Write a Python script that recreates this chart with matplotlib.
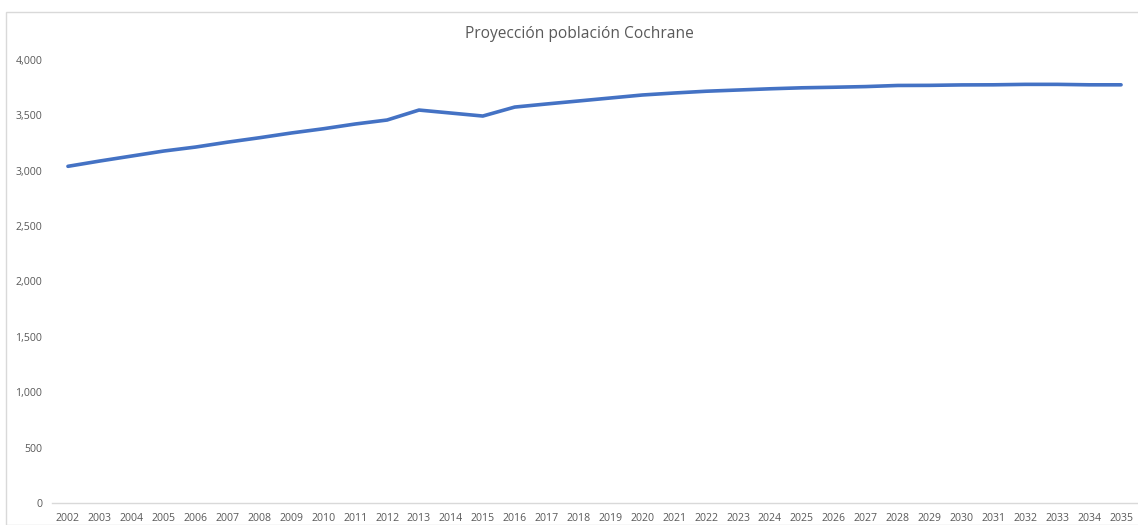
import matplotlib
matplotlib.use("Agg")
import matplotlib.pyplot as plt
from matplotlib.patches import Rectangle
from matplotlib.ticker import FuncFormatter

years = [str(y) for y in range(2002, 2036)]
population = [3040, 3088, 3133, 3178, 3214, 3258, 3298, 3341, 3379, 3422, 3458,
              3548, 3521, 3494, 3575, 3603, 3630, 3657, 3684, 3702, 3718, 3729,
              3740, 3749, 3754, 3760, 3770, 3771, 3775, 3776, 3780, 3780, 3776, 3776]
title = "Proyección población Cochrane"

plt.rcParams['font.family'] = ['Open Sans', 'DejaVu Sans']
W, H = 1138, 525
fig = plt.figure(figsize=(W/100, H/100), dpi=100)
fig.patches.append(Rectangle((6/W, 0), 1.5, 1 - 12/H, transform=fig.transFigure,
                             fill=False, edgecolor='#d9d9d9', linewidth=1))
ax = fig.add_axes([52/W, (H-503)/H, (1137-52)/W, (503-60)/H])
x = list(range(len(years)))
ax.plot(x, population, color='#4472C4', linewidth=2.6, solid_capstyle='round')
ax.set_xlim(-0.5, len(years) - 0.5)
ax.set_ylim(0, 4000)
ax.set_yticks(range(0, 4001, 500))
ax.yaxis.set_major_formatter(FuncFormatter(lambda v, p: f"{int(v):,}"))
ax.set_xticks(x)
ax.set_xticklabels(years)
for s in ['top', 'right', 'left']:
    ax.spines[s].set_visible(False)
ax.spines['bottom'].set_color('#d9d9d9')
ax.spines['bottom'].set_linewidth(1)
ax.tick_params(axis='both', length=0, labelsize=7.6, colors='#595959')
ax.tick_params(axis='y', pad=7)
ax.tick_params(axis='x', pad=7)
fig.text(579/W, 1 - 34/H, title, ha='center', va='center', fontsize=11.2, color='#595959')
fig.savefig("out.png", dpi=100)
